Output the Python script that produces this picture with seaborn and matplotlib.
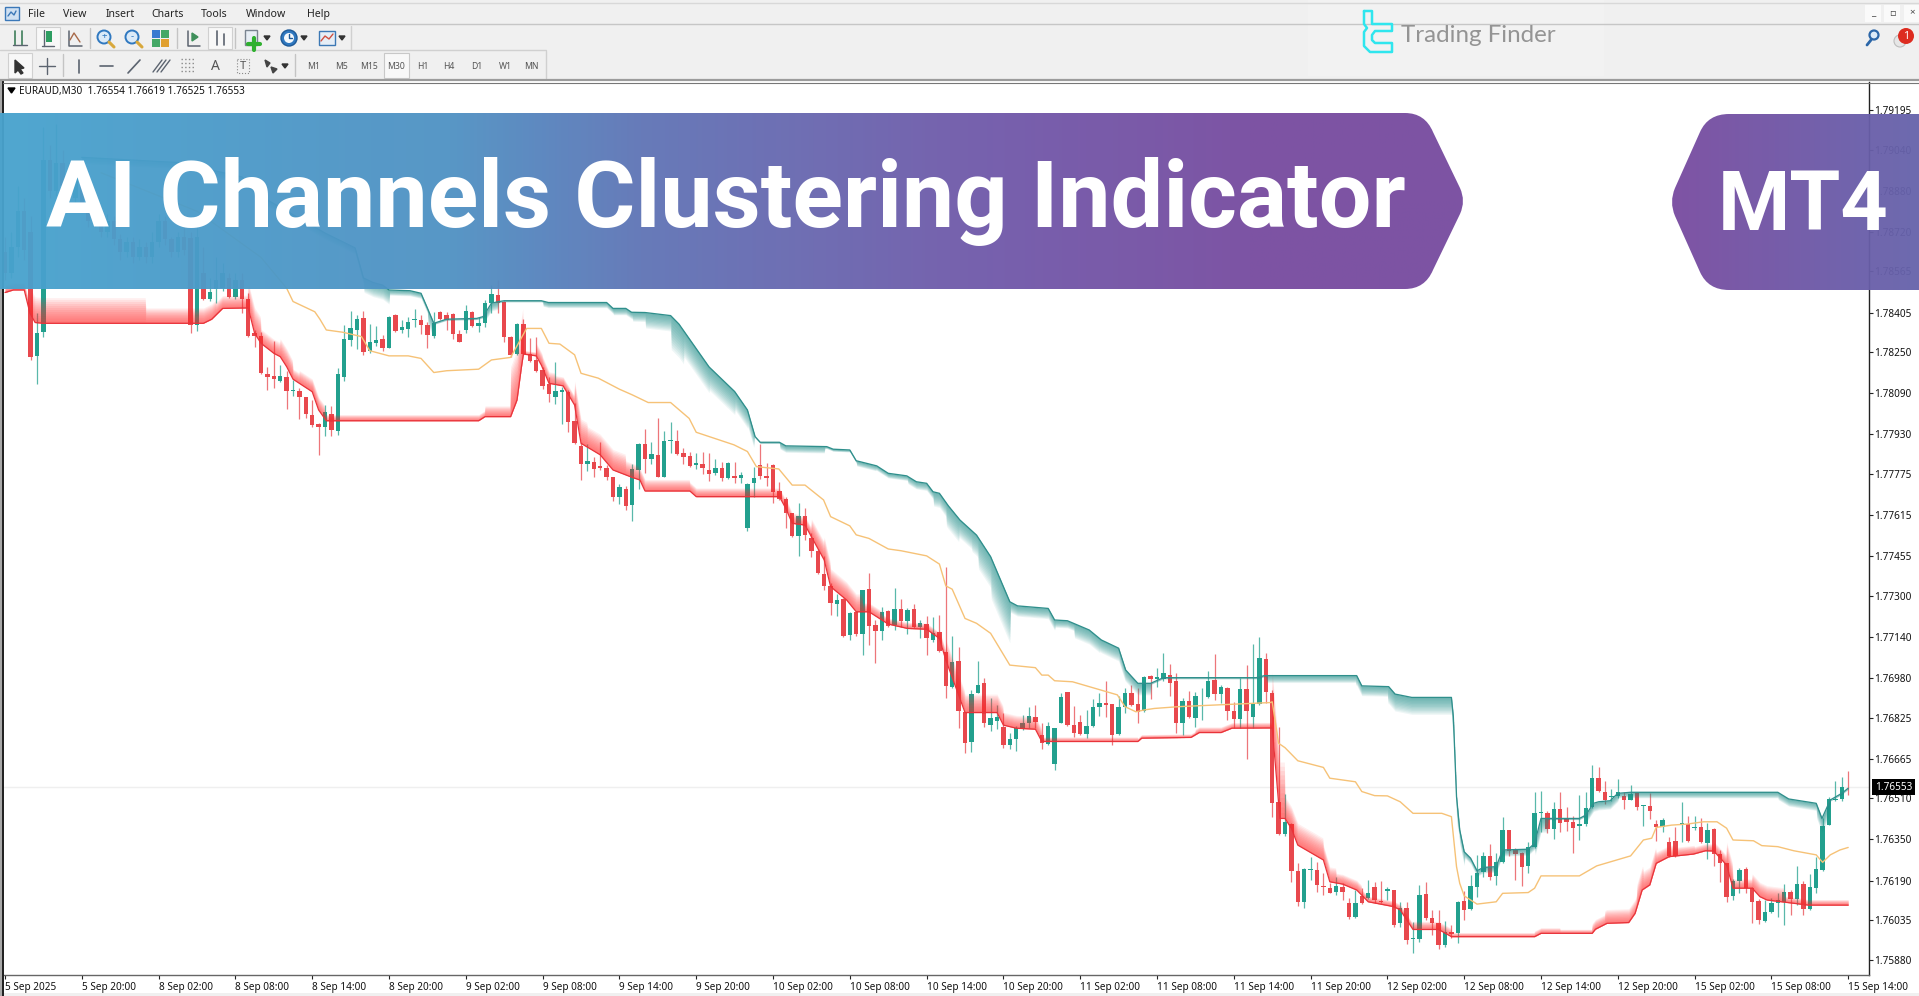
import numpy as np
import pandas as pd
import matplotlib
matplotlib.use("Agg")
import matplotlib.pyplot as plt
from matplotlib.path import Path
from matplotlib.patches import PathPatch, Rectangle, Circle, Polygon
import seaborn as sns

# candles, values are points above 1.75000 (1 point = 0.00001)
opens = [
    3640, 3560, 3660, 3800, 3720, 3236, 3330, 4000, 3880, 3990,
    3900, 3850, 3930, 3830, 3760, 3800, 3720, 3760, 3690, 3640,
    3680, 3620, 3660, 3620, 3680, 3760, 3690, 3640, 3700, 3696,
    3356, 3560, 3458, 3496, 3500, 3540, 3464, 3530, 3457, 3324,
    3315, 3167, 3159, 3139, 3152, 3100, 3100, 3077, 3005, 2969,
    2957, 3009, 2944, 3155, 3298, 3337, 3383, 3256, 3285, 3301,
    3268, 3394, 3337, 3342, 3375, 3377, 3356, 3314, 3408, 3396,
    3399, 3323, 3338, 3408, 3353, 3363, 3444, 3474, 3446, 3308,
    3243, 3360, 3243, 3220, 3181, 3126, 3077, 3097, 3097, 2983,
    2886, 2816, 2821, 2805, 2798, 2765, 2687, 2717, 2654, 2791,
    2892, 2833, 2850, 2765, 2903, 2905, 2856, 2846, 2809, 2813,
    2791, 2778, 2797, 2758, 2768, 2758, 2563, 2742, 2810, 2769,
    2810, 2708, 2679, 2622, 2535, 2613, 2524, 2476, 2385, 2340,
    2270, 2287, 2149, 2238, 2151, 2326, 2186, 2162, 2241, 2188,
    2249, 2202, 2249, 2180, 2190, 2128, 2159, 2080, 1943, 2047,
    1848, 1731, 1923, 1959, 1795, 1812, 1787, 1718, 1742, 1780,
    1806, 1829, 1758, 1721, 1644, 1806, 1925, 1798, 1810, 1760,
    1794, 1865, 1881, 1877, 1760, 1868, 1923, 1877, 1851, 1988,
    1975, 1977, 1992, 1969, 1806, 1890, 1825, 1904, 1907, 1972,
    1917, 1942, 1852, 1821, 1937, 1828, 1877, 2053, 1923, 1497,
    1371, 1410, 1228, 1107, 1230, 1231, 1170, 1161, 1147, 1165,
    1101, 1046, 1130, 1122, 1163, 1110, 1150, 1153, 1023, 1082,
    961, 963, 1136, 1043, 1023, 939, 988, 984, 1111, 1079,
    1166, 1222, 1287, 1208, 1261, 1387, 1309, 1296, 1247, 1319,
    1452, 1455, 1390, 1470, 1434, 1419, 1404, 1409, 1475, 1591,
    1536, 1514, 1521, 1521, 1504, 1530, 1481, 1482, 1410, 1397,
    1340, 1345, 1408, 1410, 1393, 1400, 1338, 1391, 1292, 1257,
    1130, 1189, 1234, 1162, 1110, 1033, 1066, 1104, 1105, 1147,
    1117, 1176, 1078, 1162, 1231, 1406, 1504, 1507, 1554,
]
closes = [
    3560, 3660, 3800, 3650, 3230, 3324, 4000, 3880, 3990, 3900,
    3850, 3930, 3830, 3760, 3800, 3720, 3760, 3690, 3640, 3680,
    3620, 3660, 3620, 3680, 3760, 3690, 3640, 3700, 3650, 3356,
    3700, 3458, 3486, 3532, 3560, 3464, 3530, 3458, 3315, 3315,
    3168, 3155, 3146, 3159, 3100, 3103, 3077, 3008, 2966, 2959,
    3016, 2947, 3164, 3301, 3343, 3381, 3252, 3290, 3297, 3268,
    3386, 3334, 3347, 3370, 3380, 3356, 3318, 3363, 3380, 3376,
    3320, 3292, 3411, 3353, 3363, 3444, 3476, 3444, 3311, 3240,
    3360, 3243, 3216, 3177, 3120, 3086, 3099, 3102, 2980, 2895,
    2814, 2826, 2795, 2798, 2762, 2687, 2723, 2651, 2794, 2892,
    2833, 2852, 2765, 2905, 2908, 2853, 2840, 2807, 2817, 2797,
    2774, 2800, 2758, 2820, 2760, 2771, 2736, 2758, 2768, 2761,
    2704, 2679, 2625, 2535, 2613, 2537, 2475, 2388, 2340, 2274,
    2284, 2144, 2235, 2151, 2323, 2183, 2162, 2238, 2184, 2249,
    2202, 2245, 2180, 2196, 2134, 2154, 2086, 1949, 2043, 1851,
    1725, 1917, 1952, 1803, 1822, 1829, 1720, 1743, 1783, 1803,
    1832, 1810, 1725, 1794, 1786, 1904, 1798, 1764, 1760, 1794,
    1868, 1881, 1874, 1757, 1868, 1923, 1874, 1847, 1985, 1975,
    1982, 1998, 1962, 1806, 1890, 1826, 1910, 1907, 1969, 1917,
    1943, 1852, 1821, 1936, 1852, 1878, 2056, 1926, 1491, 1371,
    1419, 1227, 1107, 1234, 1234, 1173, 1163, 1143, 1167, 1147,
    1049, 1104, 1101, 1140, 1114, 1105, 1156, 1017, 1082, 958,
    965, 1134, 1043, 1026, 939, 991, 980, 1107, 1075, 1170,
    1218, 1287, 1205, 1261, 1387, 1306, 1293, 1244, 1319, 1452,
    1459, 1390, 1469, 1415, 1419, 1396, 1409, 1471, 1591, 1538,
    1504, 1520, 1536, 1504, 1526, 1475, 1483, 1461, 1397, 1426,
    1286, 1286, 1413, 1345, 1400, 1340, 1387, 1293, 1260, 1127,
    1189, 1231, 1160, 1105, 1036, 1069, 1101, 1114, 1144, 1117,
    1176, 1078, 1163, 1234, 1404, 1507, 1509, 1556, 1553,
]
highs = [
    3700, 3720, 3900, 3850, 3780, 3402, 4130, 4060, 4140, 4040,
    3990, 3970, 3950, 3850, 3840, 3820, 3790, 3780, 3710, 3700,
    3700, 3690, 3680, 3720, 3790, 3780, 3700, 3720, 3790, 3720,
    3760, 3660, 3540, 3620, 3600, 3560, 3560, 3560, 3480, 3337,
    3330, 3194, 3295, 3200, 3178, 3142, 3110, 3077, 3064, 2973,
    3044, 3041, 3187, 3356, 3412, 3396, 3412, 3360, 3354, 3318,
    3392, 3398, 3376, 3389, 3419, 3396, 3370, 3408, 3412, 3408,
    3402, 3337, 3433, 3412, 3386, 3454, 3512, 3532, 3451, 3314,
    3363, 3379, 3305, 3308, 3191, 3155, 3214, 3116, 3103, 3054,
    2902, 2892, 2843, 2899, 2811, 2765, 2736, 2729, 2813, 2895,
    2950, 2901, 2992, 2944, 2980, 2947, 2875, 2862, 2856, 2862,
    2856, 2833, 2824, 2821, 2824, 2784, 2739, 2804, 2891, 2820,
    2813, 2745, 2687, 2622, 2661, 2644, 2544, 2482, 2456, 2349,
    2306, 2290, 2238, 2238, 2323, 2388, 2206, 2258, 2245, 2332,
    2288, 2254, 2267, 2206, 2223, 2216, 2225, 2414, 2145, 2102,
    1848, 1933, 2046, 1978, 1901, 1875, 1842, 1764, 1793, 1836,
    1868, 1875, 1806, 1809, 1786, 1923, 1925, 1871, 1836, 1855,
    1897, 1923, 1968, 1877, 1910, 1940, 1952, 1940, 1988, 1992,
    2018, 2076, 2033, 1998, 1901, 1929, 1927, 1940, 2008, 2072,
    1952, 1946, 1888, 1978, 2031, 2112, 2138, 2076, 1933, 1790,
    1526, 1416, 1260, 1238, 1283, 1264, 1218, 1179, 1205, 1179,
    1120, 1153, 1160, 1192, 1186, 1188, 1166, 1153, 1107, 1107,
    1030, 1173, 1183, 1075, 1075, 1033, 1017, 1111, 1150, 1212,
    1289, 1303, 1332, 1299, 1436, 1387, 1316, 1303, 1339, 1537,
    1539, 1462, 1498, 1536, 1478, 1442, 1524, 1536, 1641, 1631,
    1579, 1546, 1587, 1536, 1562, 1536, 1484, 1530, 1426, 1432,
    1361, 1397, 1497, 1443, 1442, 1432, 1413, 1393, 1309, 1257,
    1195, 1237, 1241, 1166, 1117, 1114, 1120, 1143, 1176, 1153,
    1247, 1189, 1214, 1283, 1432, 1517, 1578, 1595, 1619,
]
lows = [
    3530, 3540, 3620, 3610, 3220, 3126, 3308, 3850, 3860, 3880,
    3820, 3830, 3800, 3740, 3740, 3700, 3700, 3670, 3610, 3620,
    3600, 3610, 3600, 3600, 3660, 3670, 3620, 3620, 3630, 3327,
    3334, 3454, 3450, 3441, 3490, 3460, 3456, 3405, 3310, 3272,
    3165, 3103, 3109, 3135, 3029, 3080, 2989, 2993, 2960, 2850,
    2924, 2924, 2927, 3139, 3276, 3263, 3240, 3249, 3276, 3255,
    3266, 3331, 3327, 3308, 3350, 3320, 3268, 3304, 3376, 3337,
    3303, 3290, 3327, 3347, 3331, 3350, 3402, 3405, 3289, 3230,
    3240, 3240, 3214, 3175, 3106, 3058, 3048, 2970, 2941, 2892,
    2752, 2788, 2762, 2791, 2752, 2671, 2658, 2635, 2593, 2716,
    2781, 2814, 2762, 2762, 2859, 2850, 2814, 2804, 2794, 2775,
    2749, 2771, 2749, 2755, 2739, 2742, 2554, 2687, 2755, 2729,
    2661, 2674, 2563, 2531, 2456, 2518, 2450, 2385, 2323, 2225,
    2222, 2138, 2128, 2144, 2069, 2109, 2037, 2128, 2180, 2167,
    2180, 2151, 2173, 2134, 2069, 2121, 2083, 1900, 1940, 1784,
    1689, 1693, 1920, 1787, 1774, 1780, 1706, 1703, 1696, 1777,
    1784, 1784, 1702, 1718, 1621, 1803, 1793, 1751, 1757, 1744,
    1790, 1832, 1826, 1717, 1757, 1842, 1871, 1803, 1848, 1898,
    1946, 1969, 1910, 1764, 1757, 1822, 1787, 1816, 1901, 1894,
    1881, 1816, 1784, 1784, 1663, 1784, 1874, 1881, 1436, 1367,
    1364, 1186, 1091, 1082, 1192, 1147, 1134, 1140, 1134, 1114,
    1039, 1044, 1098, 1117, 1101, 1101, 1114, 1007, 1007, 941,
    906, 951, 1036, 977, 922, 932, 965, 945, 1036, 1075,
    1124, 1205, 1192, 1172, 1257, 1286, 1192, 1169, 1218, 1316,
    1381, 1377, 1351, 1380, 1384, 1296, 1348, 1403, 1471, 1536,
    1488, 1501, 1510, 1470, 1504, 1465, 1403, 1429, 1345, 1378,
    1283, 1283, 1341, 1340, 1387, 1335, 1273, 1247, 1186, 1107,
    1114, 1143, 1140, 1026, 1019, 1029, 1062, 1049, 1017, 1055,
    1094, 1055, 1075, 1143, 1228, 1406, 1501, 1501, 1525,
]

# channel lines, bar number and value
upper_bars = [12, 27, 37, 41, 50, 54.7, 56, 57.5, 59, 60, 63.3, 65, 66, 67, 69, 73.7, 74.7, 76, 77, 78, 83.8, 84.9, 94, 95, 97, 97.9,
              100, 104, 105.3, 110, 114, 116, 117.2, 118, 121, 122, 128.4, 129.4, 132, 133, 136.2, 138, 140.9, 142.4, 144, 145, 146,
              147.4, 149.2, 151.8, 154, 157, 158.2, 163, 164, 166, 169.4, 171.3, 174, 175.1, 177, 179, 181, 195.5, 196.8, 211.2,
              212, 216.2, 217.2, 219.8, 226, 226.3, 226.8, 227.3, 228, 229, 230, 231, 233, 234, 238, 239, 240, 246, 247, 248.2,
              249, 250.8, 252, 254, 277, 278.7, 283, 283.9, 285.2, 287, 288]
upper_vals = [4010, 3990, 3934, 3844, 3715, 3657, 3540, 3522, 3512, 3493, 3490, 3480, 3422, 3363, 3379, 3382, 3389, 3441, 3447, 3451, 3451, 3444, 3444, 3421, 3421, 3406,
              3405, 3393, 3360, 3193, 3097, 3025, 2921, 2899, 2899, 2885, 2882, 2872, 2869, 2827, 2807, 2778, 2768, 2745, 2739, 2706, 2700,
              2651, 2596, 2537, 2453, 2277, 2261, 2251, 2206, 2203, 2167, 2128, 2096, 2011, 1959, 1959, 1981, 1981, 1989, 1989,
              1949, 1946, 1917, 1904, 1904, 1829, 1517, 1387, 1302, 1277, 1228, 1241, 1244, 1309, 1312, 1335, 1432, 1432, 1445, 1491,
              1497, 1501, 1530, 1534, 1534, 1508, 1491, 1432, 1504, 1530, 1550]

lower_bars = [0, 1.3, 3, 3.9, 4.7, 6, 31, 32.3, 34, 38, 39, 40, 42, 43, 44, 45, 48, 49, 50.2, 74, 75, 79, 80, 80.7, 81, 83, 83.8, 85, 87.2, 89, 90, 93, 95, 98,
              99.2, 100, 107, 108, 121, 122, 123, 125, 128, 129, 131.5, 133, 135, 138, 141, 144, 146, 147, 150, 155, 156, 158, 161, 162, 177, 177.6, 185.3,
              186.6, 190, 191.7, 198, 198.7, 199.2, 200, 201, 202, 206, 207, 209, 211.2, 213, 217, 218, 220, 224, 226, 239, 240, 248, 248.5, 250.3, 253.7,
              254.7, 255.8, 257, 258, 260, 263.8, 265.7, 267, 269, 270, 273, 274.2, 275.3, 280.5, 281.8, 288]
lower_vals = [3483, 3493, 3493, 3402, 3366, 3363, 3363, 3379, 3421, 3423, 3324, 3285, 3246, 3233, 3194, 3145, 3096, 3025, 2983, 2983, 2999, 2999, 3064, 3194, 3243, 3236, 3200, 3129, 3119, 3044, 2895, 2850, 2791, 2762,
              2752, 2709, 2709, 2687, 2687, 2641, 2583, 2576, 2440, 2336, 2284, 2238, 2238, 2190, 2173, 2170, 2134, 2050, 1845, 1845, 1796, 1784, 1780, 1732, 1732, 1745, 1748,
              1767, 1767, 1784, 1785, 1582, 1432, 1432, 1393, 1328, 1270, 1185, 1176, 1153, 1107, 1088, 1075, 999, 999, 971, 971, 984, 984, 1000, 1023, 1026,
              1062, 1153, 1173, 1257, 1283, 1293, 1306, 1305, 1250, 1160, 1160, 1127, 1114, 1098, 1094, 1094]

mid_bars = [15, 30, 40, 44, 45, 48.4, 49.2, 50.2, 52.8, 55.7, 57, 60, 63, 65, 67, 69, 74, 76, 79, 81.5, 83.8, 85, 86.7, 89, 90, 92.7, 96, 98,
            100.5, 104, 106.9, 108, 113.9, 116, 117.4, 120.9, 123, 125, 127.9, 129, 132, 133, 135, 138, 140, 144, 146, 147, 148, 150, 151.8, 154,
            157, 161, 162, 163, 164, 166.8, 173.8, 175, 176.7, 178, 179.6, 183.4, 197.7, 198, 199, 200, 202, 206, 207, 211, 212, 214, 216, 218, 220,
            224.5, 226, 226.8, 227.3, 228, 230, 233, 234, 238, 239, 240, 246, 248.7, 254, 256, 257.3, 258, 260.4, 262.8, 265.4, 267.5, 269, 270,
            273.2, 274.5, 277, 279.5, 283, 284, 285.2, 286.7, 288]
mid_vals = [3950, 3800, 3620, 3500, 3448, 3408, 3379, 3337, 3328, 3311, 3256, 3236, 3236, 3226, 3171, 3178, 3184, 3220, 3230, 3343, 3343, 3285, 3282, 3240, 3168, 3149, 3106, 3084,
            3054, 3054, 2992, 2938, 2889, 2863, 2804, 2795, 2732, 2732, 2674, 2609, 2573, 2538, 2524, 2483, 2476, 2456, 2424, 2339, 2326, 2212, 2193, 2154,
            2030, 2020, 1991, 1991, 1969, 1965, 1914, 1868, 1848, 1855, 1861, 1868, 1884, 1887, 1725, 1708, 1657, 1631, 1589, 1575, 1537, 1521, 1520, 1497, 1452,
            1452, 1439, 1244, 1179, 1130, 1098, 1107, 1140, 1143, 1160, 1208, 1208, 1247, 1286, 1348, 1355, 1397, 1406, 1410, 1419, 1419, 1394, 1348,
            1345, 1326, 1322, 1306, 1290, 1261, 1290, 1309, 1319]

# how far the shading reaches from each channel line, step from that bar on
upper_fade_bars = [12, 56, 60, 66, 67, 75, 77, 84, 95, 98, 100, 104, 106, 110, 114, 116, 117, 121, 128, 133, 136, 141, 145, 147, 149, 151, 152, 154, 157, 164, 167, 171, 175, 179, 197, 211, 216, 226, 227, 228, 233, 239, 241, 247, 252, 254, 277, 283, 285]
upper_fade_vals = [25, 55, 20, 60, 5, 30, 5, 20, 25, 35, 60, 130, 100, 90, 70, 60, 5, 25, 8, 20, 18, 28, 55, 90, 70, 80, 120, 160, 40, 28, 55, 50, 45, 5, 27, 38, 66, 85, 55, 22, 24, 55, 5, 32, 18, 22, 28, 55, 5]
lower_fade_bars = [0, 4, 22, 33, 38, 40, 43, 45, 46, 50, 75, 79, 81, 83, 84, 86, 89, 91, 97, 99, 107, 122, 124, 126, 128, 129, 134, 137, 146, 147, 150, 156, 162, 177, 186, 198, 200, 206, 208, 212, 220, 226, 239, 243, 248, 250, 255, 256, 258, 261, 264, 267, 269, 270, 273, 278, 281]
lower_fade_vals = [30, 100, 60, 50, 100, 55, 70, 40, 50, 24, 42, 195, 15, 50, 45, 35, 95, 80, 55, 45, 34, 40, 35, 70, 90, 70, 35, 24, 35, 80, 72, 50, 18, 14, 22, 220, 85, 58, 38, 22, 32, 16, 22, 16, 38, 54, 90, 70, 44, 34, 28, 38, 90, 36, 56, 24, 22]

# axis labels
price_ticks = ["1.79195", "1.79040", "1.78880", "1.78720", "1.78565", "1.78405", "1.78250", "1.78090", "1.77930", "1.77775", "1.77615",
               "1.77455", "1.77300", "1.77140", "1.76980", "1.76825", "1.76665", "1.76510", "1.76350", "1.76190", "1.76035", "1.75880"]
time_labels = ["5 Sep 2025", "5 Sep 20:00", "8 Sep 02:00", "8 Sep 08:00", "8 Sep 14:00", "8 Sep 20:00", "9 Sep 02:00", "9 Sep 08:00", "9 Sep 14:00",
               "9 Sep 20:00", "10 Sep 02:00", "10 Sep 08:00", "10 Sep 14:00", "10 Sep 20:00", "11 Sep 02:00", "11 Sep 08:00", "11 Sep 14:00",
               "11 Sep 20:00", "12 Sep 02:00", "12 Sep 08:00", "12 Sep 14:00", "12 Sep 20:00", "15 Sep 02:00", "15 Sep 08:00", "15 Sep 14:00"]
menu_items = ["File", "View", "Insert", "Charts", "Tools", "Window", "Help"]
timeframes = ["M1", "M5", "M15", "M30", "H1", "H4", "D1", "W1", "MN"]
current_price = 1.76553

UP = "#22a08e"
DOWN = "#e8484d"
W, H = 1919, 996

sns.set_style("white")
plt.rcParams["font.family"] = ["Noto Sans", "DejaVu Sans"]


def to_price(points):
    return 1.75 + np.asarray(points, dtype=float) / 1e5


df = pd.DataFrame({"open": to_price(opens), "high": to_price(highs), "low": to_price(lows), "close": to_price(closes)})
df["bar"] = np.arange(len(df))
df["up"] = df["close"] >= df["open"]

fig = plt.figure(figsize=(W / 100, H / 100), dpi=100, facecolor="white")
ax = fig.add_axes([4 / W, (H - 975) / H, 1865 / W, 893 / H], zorder=1)
ax.set_xlim(-0.16, 291.25)
ax.set_ylim(1.758215, 1.79304)

ax.axhline(current_price, color="#efefef", lw=1, zorder=1)

# candles
for is_up, color in [(True, UP), (False, DOWN)]:
    part = df[df["up"] == is_up]
    ax.vlines(part["bar"], part["low"], part["high"], color=color, lw=0.9, alpha=0.75, zorder=2)
    ax.bar(part["bar"], (part["close"] - part["open"]).abs().clip(lower=0.00003), bottom=part[["open", "close"]].min(axis=1),
           width=0.68, color=color, linewidth=0, zorder=3)


# shaded bands next to the channel lines
def fade(bars, vals, fade_bars, fade_vals, color, sign):
    x = np.arange(bars[0], bars[-1] + 0.05, 0.1)
    line = np.interp(x, bars, vals)
    depth = np.asarray(fade_vals, dtype=float)[np.clip(np.searchsorted(fade_bars, x, side="right") - 1, 0, None)]
    for k in range(1, 13):
        ax.fill_between(x, to_price(line), to_price(line + sign * depth * (k / 12) ** 0.9), color=color, alpha=0.075, linewidth=0, zorder=4)


fade(upper_bars, upper_vals, upper_fade_bars, upper_fade_vals, "#1f8f8a", -1)
fade(lower_bars, lower_vals, lower_fade_bars, lower_fade_vals, "#ff2a2a", 1)

# channel lines
sns.lineplot(x=upper_bars, y=to_price(upper_vals), color="#2f8f8c", linewidth=0.95, estimator=None, sort=False, ax=ax, zorder=5)
sns.lineplot(x=lower_bars, y=to_price(lower_vals), color="#e8333a", linewidth=0.9, estimator=None, sort=False, ax=ax, zorder=5)
sns.lineplot(x=mid_bars, y=to_price(mid_vals), color="#f6c277", linewidth=1.0, estimator=None, sort=False, ax=ax, zorder=5)

ax.yaxis.tick_right()
ax.set_yticks([float(t) for t in price_ticks])
ax.set_yticklabels(price_ticks, fontsize=7.2, color="#111111")
ax.set_xticks(np.arange(len(time_labels)) * 12)
ax.set_xticklabels(time_labels, fontsize=7.2, color="#111111", ha="left")
ax.tick_params(axis="y", length=3, width=0.8, pad=0.5, color="#222222", right=True)
ax.tick_params(axis="x", length=3, width=0.8, pad=2, color="#222222", bottom=True)
ax.set_xlabel("")
ax.set_ylabel("")
for name, spine in ax.spines.items():
    spine.set_visible(name in ("right", "bottom"))
    spine.set_color("#222222" if name == "right" else "#666666")
    spine.set_linewidth(1)

ax.text(1.0032, current_price, f"{current_price:.5f}", transform=ax.get_yaxis_transform(), fontsize=7.2, color="white",
        va="center", ha="left", zorder=6, clip_on=False, bbox=dict(facecolor="black", edgecolor="none", pad=1.8))

# window chrome on top, in picture pixels
ov = fig.add_axes([0, 0, 1, 1], zorder=5)
ov.set_xlim(0, W)
ov.set_ylim(H, 0)
ov.axis("off")
ov.patch.set_alpha(0)

GRAY = "#f0f0f0"
ov.add_patch(Rectangle((0, 0), W, 81, color=GRAY, lw=0))
ov.add_patch(Rectangle((0, 993), W, 3, color=GRAY, lw=0))
ov.add_patch(Rectangle((0, 81), 2, 915, color="#a8a8a8", lw=0))
ov.add_patch(Rectangle((2, 81), 1.6, 915, color="#222222", lw=0))
ov.plot([0, W], [3, 3], color="#d8d8d8", lw=1)
ov.plot([0, W], [24, 24], color="#c6c6c6", lw=1)
ov.plot([0, 546], [50, 50], color="#d0d0d0", lw=1)
ov.plot([351, 351], [26, 50], color="#d0d0d0", lw=1)
ov.plot([546, 546], [51, 78], color="#d0d0d0", lw=1)
ov.plot([0, W], [80, 80], color="#9c9c9c", lw=1.6)
ov.plot([3, W], [82.5, 82.5], color="#777777", lw=0.8)
ov.add_patch(Rectangle((1308, 0), 296, 76, color="#f2f2f2", lw=0))

for x, label in zip([28, 63, 106, 151, 201, 246, 307], menu_items):
    ov.text(x, 14.5, label, fontsize=7.6, color="#222222", va="center", ha="left")
for x, label in zip([314, 341, 369, 396, 423, 449, 477, 505, 531], timeframes):
    ov.text(x, 66, label, fontsize=6.2, color="#555555", va="center", ha="center")
ov.add_patch(Rectangle((384, 53), 25, 25, fc="#f8f8f8", ec="#c8c8c8", lw=0.8, zorder=1))
ov.add_patch(Rectangle((36, 27), 24, 22, fc="#f8f8f8", ec="#d0d0d0", lw=0.8, zorder=1))
ov.add_patch(Rectangle((208, 27), 24, 22, fc="#f8f8f8", ec="#d0d0d0", lw=0.8, zorder=1))
ov.add_patch(Rectangle((8, 53), 24, 25, fc="#f8f8f8", ec="#d0d0d0", lw=0.8, zorder=1))
for x in [90, 177, 235]:
    ov.plot([x, x], [28, 48], color="#c4c4c4", lw=1)
for x in [63, 295]:
    ov.plot([x, x], [54, 76], color="#c4c4c4", lw=1)

# toolbar icons, row one
ICON = "#5c6470"
ov.add_patch(Rectangle((5, 7), 14, 13, fc="#cfe0f2", ec="#3b78b8", lw=1))
ov.plot([8, 11, 14, 16], [16, 12, 15, 11], color="#3b78b8", lw=1)
for x in [15, 22]:
    ov.plot([x, x], [31, 45], color="#3f7f5a", lw=1.2)
ov.plot([13, 27], [45, 45], color=ICON, lw=1)
for x, y0, y1 in [(217, 31, 45), (224, 34, 45)]:
    ov.plot([x, x], [y0, y1], color=ICON, lw=1.2)
ov.plot([44, 44], [30, 46], color=ICON, lw=1)
ov.add_patch(Rectangle((46, 31), 6, 11, color="#2e9e62", lw=0))
ov.plot([42, 54], [46, 46], color=ICON, lw=1)
ov.plot([69, 69, 82], [31, 46, 46], color=ICON, lw=1.1)
ov.plot([70, 74, 80], [40, 33, 42], color="#a86a4a", lw=1)
for x, mark in [(105, "+"), (133, "-")]:
    ov.add_patch(Circle((x - 1, 37), 6.5, fc="#dbeaf8", ec="#2f78c0", lw=1.4))
    ov.plot([x + 4, x + 9], [42, 47], color="#d8a83c", lw=2.2)
    ov.text(x - 1, 36.5, mark, fontsize=7, color="#2f78c0", ha="center", va="center")
for (x, y), c in zip([(152, 30), (161, 30), (152, 39), (161, 39)], ["#3a7bd0", "#44a866", "#44a866", "#e0a030"]):
    ov.add_patch(Rectangle((x, y), 8, 8, color=c, lw=0))
ov.plot([188, 188, 200], [31, 46, 46], color=ICON, lw=1.1)
ov.add_patch(Polygon([(192, 33), (198, 37), (192, 41)], color="#3f8f5a"))
ov.add_patch(Rectangle((245, 30), 12, 15, fc="#e8eef5", ec="#7a8490", lw=1))
ov.plot([254, 254], [38, 50], color="#2fb02f", lw=3)
ov.plot([248, 260], [44, 44], color="#2fb02f", lw=3)
ov.add_patch(Circle((289, 38), 8, fc="#2f78c0", ec="#1e5a98", lw=1))
ov.add_patch(Circle((289, 38), 5, fc="#f4f8fc", lw=0))
ov.plot([289, 289, 292], [34, 38, 38], color="#1e5a98", lw=1)
ov.add_patch(Rectangle((319, 31), 16, 14, fc="#e6eef6", ec="#3c78b4", lw=1))
ov.plot([321, 325, 329, 333], [41, 36, 39, 34], color="#d05040", lw=1)
for x, y in [(267, 38), (304, 38), (342, 38), (285, 66)]:
    ov.add_patch(Polygon([(x - 3, y - 2), (x + 3, y - 2), (x, y + 2)], color="#333333"))

# toolbar icons, row two
ov.add_patch(Polygon([(15, 60), (15, 73), (18, 70), (21, 74), (23, 73), (20, 69), (24, 68)], color="#333333"))
ov.plot([47, 47], [58, 74], color=ICON, lw=1)
ov.plot([39, 55], [66, 66], color=ICON, lw=1)
ov.plot([79, 79], [60, 73], color=ICON, lw=1.2)
ov.plot([100, 113], [66, 66], color=ICON, lw=1.2)
ov.plot([128, 140], [73, 60], color=ICON, lw=1.2)
for d in [0, 4, 8]:
    ov.plot([153 + d, 162 + d], [72, 60], color=ICON, lw=1)
for y in [59, 63, 67, 71]:
    ov.plot([181, 195], [y, y], color="#8a8a8a", lw=1, ls=":")
ov.text(215, 66.5, "A", fontsize=10, fontweight="bold", color="#555555", ha="center", va="center")
ov.add_patch(Rectangle((237, 59), 12, 14, fill=False, ec="#8a8a8a", lw=0.8, ls=":"))
ov.text(243, 66, "T", fontsize=8, fontweight="bold", color="#555555", ha="center", va="center")
ov.add_patch(Polygon([(265, 60), (270, 63), (267, 67)], color="#444444"))
ov.add_patch(Polygon([(271, 67), (277, 69), (273, 73)], color="#444444"))

# logo and the window corner
logo = [(1364, 11), (1372, 11), (1372, 24), (1392, 24), (1392, 31), (1375, 31), (1372, 35), (1372, 40), (1375, 43), (1392, 43),
        (1392, 52), (1370, 52), (1364, 46), (1364, 32), (1367, 28), (1364, 24), (1364, 11)]
ov.plot(*zip(*logo), color="#2fe6ee", lw=1.8)
ov.text(1401, 35.5, "Trading Finder", fontsize=17.4, family="Lato", color="#949494", va="center", ha="left")
for x, label in [(1873, "_"), (1892, "▫"), (1912, "×")]:
    ov.add_patch(Rectangle((x - 8, 5), 16, 17, color="#fafafa", lw=0))
    ov.text(x, 13, label, fontsize=7, color="#444444", ha="center", va="center")
ov.add_patch(Circle((1874, 35), 4.5, fc="#dbeaf8", ec="#2b66a8", lw=1.6))
ov.plot([1871, 1867], [40, 45], color="#2b66a8", lw=2)
ov.add_patch(Circle((1900, 41), 6, fc="#e6e6e6", ec="#bcbcbc", lw=0.8))
ov.add_patch(Circle((1906, 36), 8, color="#dd2c20", lw=0))
ov.text(1906, 36, "1", fontsize=7.5, color="white", fontweight="bold", ha="center", va="center")

ov.add_patch(Polygon([(8, 88), (15, 88), (11.5, 93)], color="black"))
ov.text(19, 91, "EURAUD,M30  1.76554 1.76619 1.76525 1.76553", fontsize=7.2, color="#111111", va="center", ha="left")


# banners over the chart
def banner(path, x0, x1, stops_x, stops_c):
    grad_x = np.linspace(x0, x1, 512)
    rgb = np.array([matplotlib.colors.to_rgb(c) for c in stops_c])
    img = np.stack([np.interp(grad_x, stops_x, rgb[:, i]) for i in range(3)], axis=-1)[None, :, :]
    patch = PathPatch(path, fc="none", ec="none", zorder=8)
    ov.add_patch(patch)
    im = ov.imshow(img, extent=(x0, x1, 296, 110), aspect="auto", alpha=0.96, zorder=8)
    im.set_clip_path(patch)


M, L, C, Z = Path.MOVETO, Path.LINETO, Path.CURVE3, Path.CLOSEPOLY
left_path = Path([(-2, 113), (1405, 113), (1425, 113), (1433, 132), (1460, 188), (1466, 201), (1460, 214), (1433, 270), (1425, 289), (1405, 289), (-2, 289), (-2, 113)],
                 [M, L, C, C, L, C, C, L, C, C, L, Z])
right_path = Path([(1921, 114), (1729, 114), (1708, 114), (1700, 132), (1675, 188), (1669, 202), (1675, 216), (1700, 272), (1708, 290), (1729, 290), (1921, 290), (1921, 114)],
                  [M, L, C, C, L, C, C, L, C, C, L, Z])
banner(left_path, -2, 1467, [0, 450, 640, 950, 1250, 1466], ["#48a3ce", "#5092c4", "#6075b6", "#705cab", "#774ca0", "#774b9f"])
banner(right_path, 1668, 1921, [1669, 1919], ["#794ba0", "#6664ac"])
ov.set_xlim(0, W)
ov.set_ylim(H, 0)

ov.text(46, 227, "AI Channels Clustering Indicator", fontsize=67.3, family="Roboto", weight="bold", color="white", va="baseline", ha="left", zorder=9)
ov.text(1718, 230, "MT4", fontsize=59.5, family="Roboto", weight="bold", color="white", va="baseline", ha="left", zorder=9)

fig.savefig("out.png", dpi=100)
